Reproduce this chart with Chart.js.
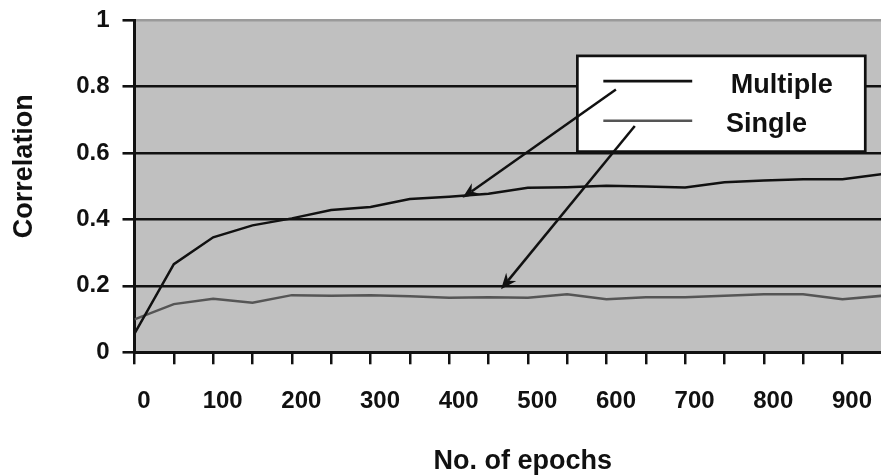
<!DOCTYPE html>
<html>
<head>
<meta charset="utf-8">
<script src="https://cdn.jsdelivr.net/npm/chart.js@4/dist/chart.umd.min.js"></script>
<style>
  html, body { margin: 0; padding: 0; background: #fff; }
  #wrap { width: 881px; height: 476px; }
</style>
</head>
<body>
<div id="wrap"><canvas id="c" width="881" height="476"></canvas></div>
<script>
// Training epochs (x) and correlation reached by each network set (y)
const epochs   = [0, 50, 100, 150, 200, 250, 300, 350, 400, 450, 500, 550, 600, 650, 700, 750, 800, 850, 900, 950];
const multiple = [0.056, 0.265, 0.346, 0.382, 0.403, 0.428, 0.437, 0.461, 0.468, 0.477, 0.495, 0.497, 0.501, 0.499, 0.496, 0.512, 0.517, 0.521, 0.521, 0.536];
const single   = [0.099, 0.145, 0.161, 0.149, 0.172, 0.170, 0.172, 0.169, 0.164, 0.166, 0.164, 0.175, 0.160, 0.166, 0.166, 0.170, 0.175, 0.175, 0.160, 0.170];
const seriesNames = ['Multiple', 'Single'];

// Axis labelling
const xTickValues = [0, 50, 100, 150, 200, 250, 300, 350, 400, 450, 500, 550, 600, 650, 700, 750, 800, 850, 900];
const xLabelled = [0, 100, 200, 300, 400, 500, 600, 700, 800, 900];
const yLabels = ['0', '0.2', '0.4', '0.6', '0.8', '1'];
const xTitle = 'No. of epochs';
const yTitle = 'Correlation';

// Call-out legend box and the arrows from its keys to the curves (data units)
const legendBox = { x0: 563, x1: 929, y0: 0.604, y1: 0.892 };
const legendKeys = [
  { x0: 596, x1: 709, y: 0.816, textX: 758, textY: 0.781 },
  { x0: 596, x1: 709, y: 0.697, textX: 752, textY: 0.664 }
];
const arrows = [
  { from: [612, 0.791], to: [417, 0.465] },
  { from: [636, 0.681], to: [466, 0.190] }
];

const FONT = "'Liberation Sans', Arial, sans-serif";
const lineColors = ['#111111', '#555555'];

const toPts = (ys) => epochs.map((x, i) => ({ x, y: ys[i] }));

const decor = {
  id: 'decor',
  beforeDraw(chart) {
    const { ctx, chartArea: a } = chart;
    ctx.save();
    ctx.fillStyle = '#c0c0c0';
    ctx.fillRect(a.left, a.top, a.right - a.left, a.bottom - a.top);
    ctx.restore();
  },
  afterDatasetsDraw(chart) {
    const { ctx } = chart;
    const xs = chart.scales.x, ys = chart.scales.y;
    const px = v => xs.getPixelForValue(v), py = v => ys.getPixelForValue(v);
    ctx.save();
    // legend box
    const bx0 = px(legendBox.x0), bx1 = px(legendBox.x1);
    const by0 = py(legendBox.y1), by1 = py(legendBox.y0);
    ctx.fillStyle = '#ffffff';
    ctx.fillRect(bx0, by0, bx1 - bx0, by1 - by0);
    ctx.strokeStyle = '#111';
    ctx.lineWidth = 2.7;
    ctx.strokeRect(bx0, by0, bx1 - bx0, by1 - by0);
    // keys and names
    legendKeys.forEach((k, i) => {
      ctx.strokeStyle = lineColors[i];
      ctx.lineWidth = 2.6;
      ctx.beginPath();
      ctx.moveTo(px(k.x0), py(k.y));
      ctx.lineTo(px(k.x1), py(k.y));
      ctx.stroke();
      ctx.fillStyle = '#111';
      ctx.font = `bold 27px ${FONT}`;
      ctx.textAlign = 'left';
      ctx.textBaseline = 'alphabetic';
      ctx.fillText(chart.data.datasets[i].label, px(k.textX), py(k.textY));
    });
    // arrows with notched heads
    arrows.forEach(a => {
      const x0 = px(a.from[0]), y0 = py(a.from[1]);
      const x1 = px(a.to[0]), y1 = py(a.to[1]);
      const ang = Math.atan2(y1 - y0, x1 - x0);
      const c = Math.cos(ang), s = Math.sin(ang);
      const len = 16, half = 6.5, notch = 11;
      ctx.strokeStyle = '#111';
      ctx.lineWidth = 2.5;
      ctx.beginPath();
      ctx.moveTo(x0, y0);
      ctx.lineTo(x1 - notch * c, y1 - notch * s);
      ctx.stroke();
      const bx = x1 - len * c, by = y1 - len * s;
      ctx.fillStyle = '#111';
      ctx.beginPath();
      ctx.moveTo(x1, y1);
      ctx.lineTo(bx + half * s, by - half * c);
      ctx.lineTo(x1 - notch * c, y1 - notch * s);
      ctx.lineTo(bx - half * s, by + half * c);
      ctx.closePath();
      ctx.fill();
    });
    ctx.restore();
  },
  afterDraw(chart) {
    const { ctx, chartArea: a } = chart;
    ctx.save();
    ctx.fillStyle = '#111';
    ctx.font = `bold 27px ${FONT}`;
    ctx.textAlign = 'center';
    ctx.textBaseline = 'alphabetic';
    ctx.fillText(xTitle, (a.left + a.right) / 2 + 15, 468.5);
    ctx.translate(32, (a.top + a.bottom) / 2 - 20);
    ctx.rotate(-Math.PI / 2);
    ctx.fillText(yTitle, 0, 0);
    ctx.restore();
  }
};

new Chart(document.getElementById('c'), {
  type: 'line',
  data: {
    datasets: [
      { label: seriesNames[0], data: toPts(multiple), borderColor: lineColors[0], borderWidth: 2.5, pointRadius: 0, tension: 0, fill: false },
      { label: seriesNames[1], data: toPts(single), borderColor: lineColors[1], borderWidth: 2.5, pointRadius: 0, tension: 0, fill: false }
    ]
  },
  options: {
    responsive: false,
    animation: false,
    devicePixelRatio: 1,
    layout: { padding: { top: 20, right: 0, left: 0, bottom: 0 } },
    plugins: { legend: { display: false }, tooltip: { enabled: false } },
    scales: {
      x: {
        type: 'linear',
        min: 0,
        max: 949,
        afterBuildTicks(s) { s.ticks = xTickValues.map(v => ({ value: v })); },
        afterFit(s) { s.height = 123.7; s.paddingLeft = 0; s.paddingRight = 0; },
        border: { color: '#111', width: 3 },
        grid: { drawOnChartArea: false, drawTicks: true, tickLength: 12, color: '#111', lineWidth: 2.5 },
        ticks: {
          autoSkip: false,
          maxRotation: 0,
          padding: 23,
          labelOffset: 9.5,
          color: '#111',
          font: { family: FONT, size: 24, weight: 'bold' },
          callback: v => xLabelled.includes(v) ? String(v) : ''
        }
      },
      y: {
        min: 0,
        max: 1,
        afterFit(s) { s.width = 134.5; s.paddingTop = 0; s.paddingBottom = 0; },
        border: { color: '#111', width: 3 },
        grid: {
          drawTicks: true,
          tickLength: 12,
          color: c => (c.tick && Math.abs(c.tick.value - 1) < 1e-6) ? '#9a9a9a' : '#111',
          tickColor: '#111',
          lineWidth: 2.6
        },
        ticks: {
          stepSize: 0.2,
          padding: 13,
          color: '#111',
          font: { family: FONT, size: 24, weight: 'bold' },
          callback: v => yLabels[Math.round(v * 5)]
        }
      }
    }
  },
  plugins: [decor]
});
</script>
</body>
</html>
